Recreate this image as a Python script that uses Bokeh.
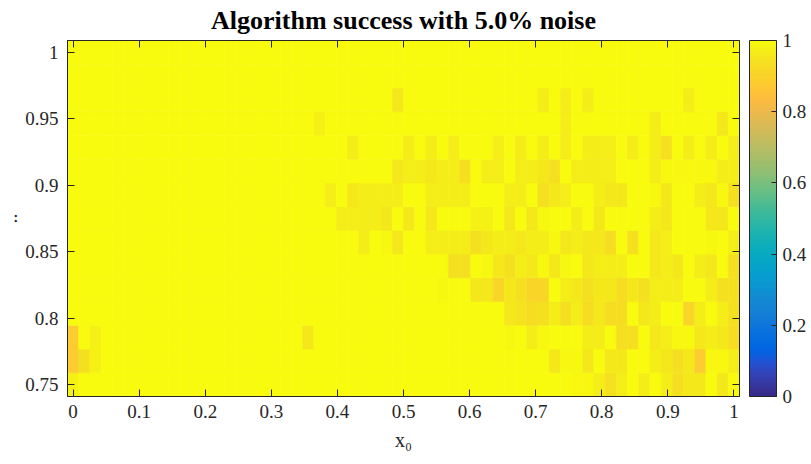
import numpy as np
from bokeh.plotting import figure
from bokeh.models import (ColumnDataSource, LinearColorMapper, ColorBar, FixedTicker,
                          CustomJSTickFormatter, LinearAxis, Range1d)
from bokeh.embed import file_html
from bokeh.resources import INLINE

# ---------------- data ----------------
n_x0 = 60
n_mu = 15
x0_values = [i / (n_x0 - 1) for i in range(n_x0)]
mu_values = [0.75 + j * 0.25 / (n_mu - 1) for j in range(n_mu)]

x_ticks = [0, 0.1, 0.2, 0.3, 0.4, 0.5, 0.6, 0.7, 0.8, 0.9, 1]
y_ticks = [0.75, 0.8, 0.85, 0.9, 0.95, 1]
cbar_ticks = [0, 0.2, 0.4, 0.6, 0.8, 1]

# success rate, one list per mu row (bottom row first), 60 x0 columns each
row_00 = [0.98,1,1,1,1,1,1,1,1,1, 1,1,1,1,1,1,1,1,1,1, 1,1,1,1,1,1,1,1,1,1,
          1,1,1,1,1,1,1,1,1,1, 1,1,1,1,1,0.99,0.99,0.97,0.94,0.97,
          1,0.97,1,0.97,0.94,0.96,0.96,1,0.96,1]
row_01 = [0.88,0.94,0.98,1,1,1,1,1,1,1, 1,1,1,1,1,1,1,1,1,1, 1,1,1,1,1,1,1,1,1,1,
          1,1,1,1,1,1,1,1,1,1, 1,1,1,0.96,0.99,0.99,0.96,1,0.96,0.96,
          1,1,0.97,0.96,0.94,0.96,0.88,0.99,0.99,0.97]
row_02 = [0.88,1,0.98,1,1,1,1,1,1,1, 1,1,1,1,1,1,1,1,1,1, 1,0.96,1,1,1,1,1,1,1,1,
          1,1,1,1,1,1,1,1,1,0.99, 1,0.97,0.99,1,1,1,0.97,0.97,1,0.94,
          0.94,1,0.96,0.97,0.99,0.99,0.96,0.97,0.96,0.93]
row_03 = [1,1,1,1,1,1,1,1,1,1, 1,1,1,1,1,1,1,1,1,1, 1,1,1,1,1,1,1,1,1,1,
          1,1,1,1,1,1,1,1,1,0.96, 0.95,0.93,0.94,0.97,0.94,0.97,0.93,0.96,0.93,0.93,
          1,0.96,0.97,1,1,0.91,0.97,1,0.97,0.94]
row_04 = [1,1,1,1,1,1,1,1,1,1, 1,1,1,1,1,1,1,1,1,1, 1,1,1,1,1,1,1,1,1,1,
          1,1,1,0.99,1,1,0.96,0.96,0.91,0.96, 0.94,0.91,0.91,1,0.97,0.96,0.94,0.96,0.96,0.93,
          0.96,0.94,0.97,0.97,0.97,1,1,0.97,0.94,0.94]
row_05 = [1,1,1,1,1,1,1,1,1,1, 1,1,1,1,1,1,1,1,1,1, 1,1,1,1,1,1,1,1,1,1,
          1,1,1,1,0.94,0.94,1,0.99,0.96,0.94, 0.97,0.96,0.99,0.96,0.99,1,0.96,0.97,0.97,0.97,
          1,1,0.96,0.97,0.96,1,0.97,0.96,1,0.94]
row_06 = [1,1,1,1,1,1,1,1,1,1, 1,1,1,1,1,1,1,1,1,1, 1,1,1,1,1,1,0.97,1,0.99,0.96,
          1,1,0.97,0.97,0.97,0.97,0.94,0.96,0.97,0.97, 0.96,0.97,0.97,0.99,0.96,0.97,0.96,0.96,0.93,1,
          0.94,1,0.96,0.97,1,1,1,0.99,1,0.97]
row_07 = [1,1,1,1,1,1,1,1,1,1, 1,1,1,1,1,1,1,1,1,1, 1,1,1,1,0.97,0.97,0.97,0.97,0.96,1,
          0.96,1,0.96,1,1,1,0.98,0.98,1,0.96, 1,0.96,0.99,1,1,0.97,1,0.96,1,1,
          1,1,0.97,0.96,1,1,1,0.96,0.96,1]
row_08 = [1,1,1,1,1,1,1,1,1,1, 1,1,1,1,1,1,1,1,1,1, 1,1,1,0.97,1,0.96,0.97,0.97,0.97,0.97,
          1,1,0.97,0.97,0.97,0.97,1,1,1,0.97, 0.97,1,0.94,0.96,0.97,1,1,0.97,0.96,0.96,
          1,1,0.99,0.96,1,1,0.97,0.96,0.99,0.94]
row_09 = [1,1,1,1,1,1,1,1,1,1, 1,1,1,1,1,1,1,1,1,1, 1,1,1,1,1,1,1,1,1,0.96,
          0.97,0.97,0.96,0.97,0.97,0.94,1,0.97,0.97,1, 0.97,0.97,0.96,0.94,1,0.97,0.97,0.97,0.97,1,
          1,1,0.97,0.99,0.99,0.99,0.99,0.99,0.97,0.97]
row_10 = [1,1,1,1,1,1,1,1,1,1, 1,1,1,1,1,1,1,1,1,1, 1,1,1,1,1,0.97,1,1,1,1,
          0.97,1,0.97,1,0.97,1,1,1,0.97,1, 0.97,1,0.97,1,0.97,1,0.97,0.97,0.97,1,
          0.97,1,0.97,0.94,1,0.97,1,0.97,1,0.97]
row_11 = [1,1,1,1,1,1,1,1,1,1, 1,1,1,1,1,1,1,1,1,1, 1,1,0.98,1,1,1,1,1,1,1,
          1,1,1,1,1,1,1,1,1,1, 1,1,1,1,0.97,1,1,1,1,1,
          1,1,0.97,1,1,1,1,1,0.96,1]
row_12 = [1,1,1,1,1,1,1,1,1,1, 1,1,1,1,1,1,1,1,1,1, 1,1,1,1,1,1,1,1,1,0.96,
          1,1,1,1,1,1,1,1,1,1, 1,1,0.97,1,0.97,1,0.97,1,1,1,
          1,1,1,1,1,0.97,1,1,1,1]
row_13 = [1,1,1,1,1,1,1,1,1,1, 1,1,1,1,1,1,1,1,1,1, 1,1,1,1,1,1,1,1,1,1,
          1,1,1,1,1,1,1,1,1,1, 1,1,1,1,1,1,1,1,1,1,
          1,1,1,1,1,1,1,1,1,1]
row_14 = [1,1,1,1,1,1,1,1,1,1, 1,1,1,1,1,1,1,1,1,1, 1,1,1,1,1,1,1,1,1,1,
          1,1,1,1,1,1,1,1,1,1, 1,1,1,1,1,1,1,1,1,1,
          1,1,1,1,1,1,1,1,1,1]

rows = [row_00, row_01, row_02, row_03, row_04, row_05, row_06, row_07,
        row_08, row_09, row_10, row_11, row_12, row_13, row_14]

# ---------------- parula colormap ----------------
parula64 = np.array([
[0.2081,0.1663,0.5292],[0.2116,0.1898,0.5777],[0.2123,0.2138,0.6270],[0.2081,0.2386,0.6771],
[0.1959,0.2645,0.7279],[0.1707,0.2919,0.7792],[0.1253,0.3242,0.8303],[0.0591,0.3598,0.8683],
[0.0117,0.3875,0.8820],[0.0060,0.4086,0.8828],[0.0165,0.4266,0.8786],[0.0329,0.4430,0.8720],
[0.0498,0.4586,0.8641],[0.0629,0.4737,0.8554],[0.0723,0.4887,0.8467],[0.0779,0.5040,0.8384],
[0.0793,0.5200,0.8312],[0.0749,0.5375,0.8263],[0.0641,0.5570,0.8240],[0.0488,0.5772,0.8228],
[0.0343,0.5966,0.8199],[0.0265,0.6137,0.8135],[0.0239,0.6287,0.8038],[0.0231,0.6418,0.7913],
[0.0228,0.6535,0.7768],[0.0267,0.6642,0.7607],[0.0384,0.6743,0.7436],[0.0590,0.6838,0.7254],
[0.0843,0.6928,0.7062],[0.1133,0.7015,0.6859],[0.1453,0.7098,0.6646],[0.1801,0.7177,0.6424],
[0.2178,0.7250,0.6193],[0.2586,0.7317,0.5954],[0.3022,0.7376,0.5712],[0.3482,0.7424,0.5473],
[0.3953,0.7459,0.5244],[0.4420,0.7481,0.5033],[0.4871,0.7491,0.4840],[0.5300,0.7491,0.4661],
[0.5709,0.7485,0.4494],[0.6099,0.7473,0.4337],[0.6473,0.7456,0.4188],[0.6834,0.7435,0.4044],
[0.7184,0.7411,0.3905],[0.7525,0.7384,0.3768],[0.7858,0.7356,0.3633],[0.8185,0.7327,0.3498],
[0.8507,0.7299,0.3360],[0.8824,0.7274,0.3217],[0.9139,0.7258,0.3063],[0.9450,0.7261,0.2886],
[0.9739,0.7314,0.2666],[0.9938,0.7455,0.2403],[0.9990,0.7653,0.2164],[0.9955,0.7861,0.1967],
[0.9880,0.8066,0.1794],[0.9789,0.8271,0.1633],[0.9697,0.8481,0.1475],[0.9626,0.8705,0.1309],
[0.9589,0.8949,0.1132],[0.9598,0.9218,0.0948],[0.9661,0.9514,0.0755],[0.9763,0.9831,0.0538]])
t64 = np.linspace(0, 1, 64)
t256 = np.linspace(0, 1, 256)
parula = []
for t in t256:
    r, g, b = (np.interp(t, t64, parula64[:, k]) for k in range(3))
    parula.append("#%02x%02x%02x" % (int(round(r * 255)), int(round(g * 255)), int(round(b * 255))))

mapper = LinearColorMapper(palette=parula, low=0, high=1)

# ---------------- source ----------------
xs, ys, zs = [], [], []
for j, row in enumerate(rows):
    for i, z in enumerate(row):
        xs.append(x0_values[i]); ys.append(mu_values[j]); zs.append(z)
src = ColumnDataSource(dict(x=xs, y=ys, z=zs))

dx = x0_values[1] - x0_values[0]
dy = mu_values[1] - mu_values[0]

FONT = "Liberation Serif"
DARK = "#262626"

p = figure(frame_width=672, frame_height=356, output_backend="svg", toolbar_location=None,
           x_range=Range1d(x0_values[0] - dx / 2, x0_values[-1] + dx / 2),
           y_range=Range1d(mu_values[0] - dy / 2, mu_values[-1] + dy / 2),
           min_border_left=66, min_border_top=40, min_border_bottom=68, min_border_right=0,
           background_fill_color="white", border_fill_color="white", outline_line_color=DARK)

p.rect(x="x", y="y", width=dx, height=dy, source=src,
       fill_color={"field": "z", "transform": mapper},
       line_color={"field": "z", "transform": mapper}, line_width=0.6)

p.grid.visible = False

num_fmt = CustomJSTickFormatter(code="return tick.toString();")
blank_fmt = CustomJSTickFormatter(code="return '';")

def style_axis(ax, ticks, fmt, standoff):
    ax.ticker = FixedTicker(ticks=ticks)
    ax.formatter = fmt
    ax.minor_tick_line_color = None
    ax.major_tick_in = 7
    ax.major_tick_out = 0
    ax.major_tick_line_color = DARK
    ax.axis_line_color = DARK
    ax.major_label_text_font = FONT
    ax.major_label_text_font_size = "19px"
    ax.major_label_text_color = DARK
    ax.major_label_standoff = standoff
    ax.axis_label_text_font = FONT
    ax.axis_label_text_font_size = "20px"
    ax.axis_label_text_font_style = "normal"
    ax.axis_label_text_color = DARK

style_axis(p.xaxis[0], x_ticks, num_fmt, 8)
style_axis(p.yaxis[0], y_ticks, num_fmt, 9)
p.xaxis[0].axis_label = "x\u2080"
p.xaxis[0].axis_label_standoff = 8
p.yaxis[0].axis_label = ".."
p.yaxis[0].axis_label_standoff = 5

top_ax = LinearAxis()
style_axis(top_ax, x_ticks, blank_fmt, 0)
p.add_layout(top_ax, "above")
# invisible spacer above the frame: lifts the title
top_gap = LinearAxis(ticker=FixedTicker(ticks=x_ticks), formatter=blank_fmt,
                     major_tick_in=0, major_tick_out=6, major_label_standoff=0,
                     major_tick_line_color=None, minor_tick_line_color=None,
                     axis_line_color=None)
p.add_layout(top_gap, "above")

right_ax = LinearAxis()
style_axis(right_ax, y_ticks, blank_fmt, 0)
p.add_layout(right_ax, "right")

# invisible spacer axis: its outward ticks reserve the gap before the colour bar
gap_ax = LinearAxis(ticker=FixedTicker(ticks=y_ticks), formatter=blank_fmt,
                    major_tick_in=0, major_tick_out=10, major_label_standoff=0,
                    major_tick_line_color=None, minor_tick_line_color=None,
                    axis_line_color=None)
p.add_layout(gap_ax, "right")

cbar = ColorBar(color_mapper=mapper, ticker=FixedTicker(ticks=cbar_ticks), formatter=num_fmt,
                width=27, padding=0, margin=0, label_standoff=6,
                major_label_text_font=FONT, major_label_text_font_size="19px",
                major_label_text_color=DARK, major_tick_in=5, major_tick_out=0,
                major_tick_line_color=DARK, bar_line_color=DARK, minor_tick_line_color=None,
                border_line_color=None, background_fill_color="white")
p.add_layout(cbar, "right")

p.title.text = "Algorithm success with 5.0% noise"
p.title.align = "center"
p.title.text_font = FONT
p.title.text_font_style = "bold"
p.title.text_font_size = "26px"
p.title.text_color = "black"
p.title.standoff = 0

open("out.html", "w").write(file_html(p, INLINE))
